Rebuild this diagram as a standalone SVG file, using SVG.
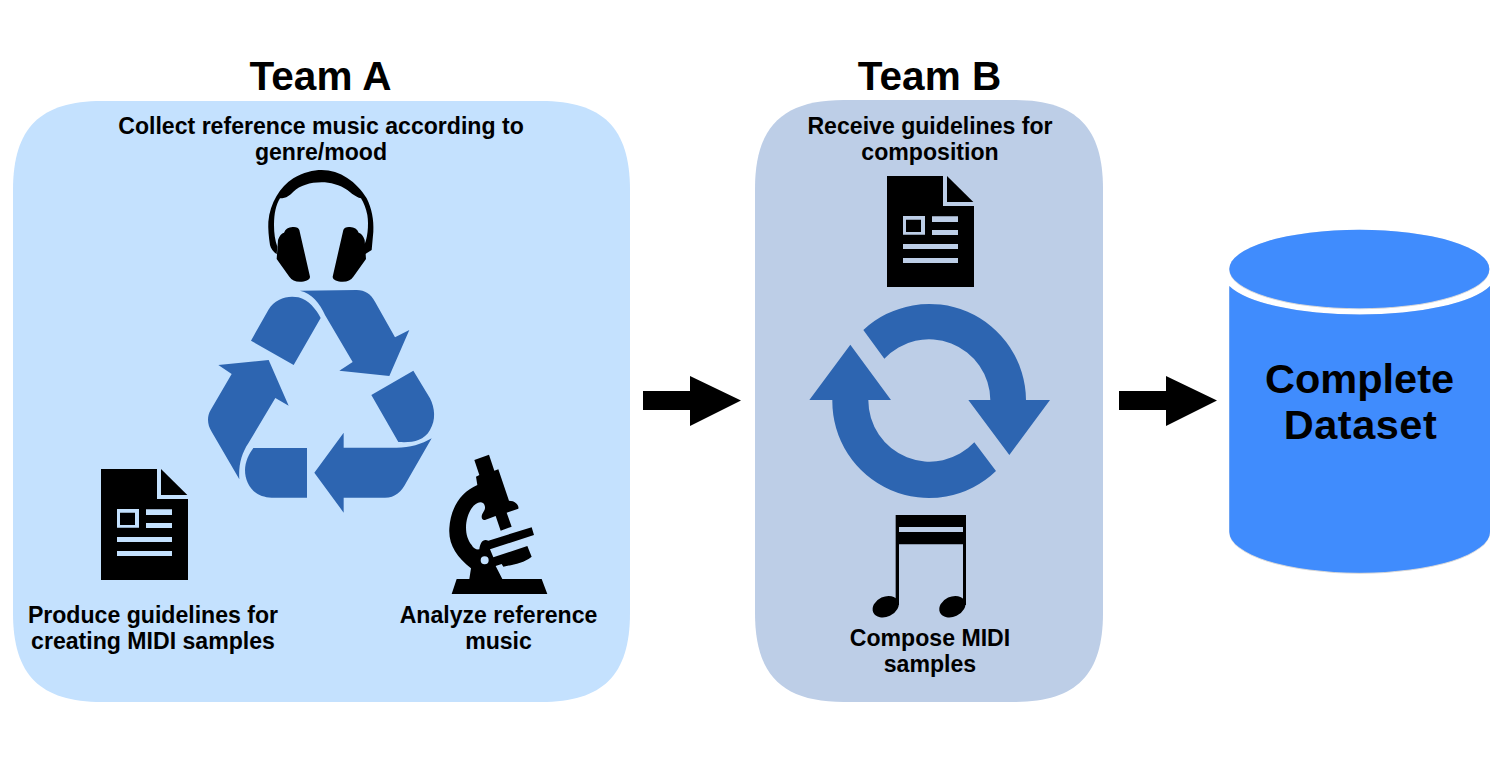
<svg xmlns="http://www.w3.org/2000/svg" xmlns:xlink="http://www.w3.org/1999/xlink" width="1500" height="776" viewBox="0 0 1500 776">
<style>
text{font-family:"Liberation Sans",Arial,sans-serif;font-weight:700;fill:#000;text-anchor:middle}
.t{font-size:40.500px}.s{font-size:23.100px}.d{font-size:41.500px}
.k{fill:#000}.b{fill:#2d65b1}
</style>
<defs>
<g id="doc">
<path class="k" fill-rule="evenodd" d="M0 0H168V90H261V333H0ZM48 120V176H114V120ZM57 131H102V168H57ZM135 121V138H213V121ZM135 162V177H213V162ZM48 204V219H213V204ZM48 246V261H213V246Z"/>
<path class="k" d="M180 0L259 78H180Z"/>
</g>
<path id="cup" class="k" d="M72 203C76 192 85 187 98 186C108 185 116 188 118 195L150 335C150 345 135 350 120 350C105 350 95 345 88 335L50 282L54 225C58 212 65 205 72 203Z"/>
<filter id="sh" x="-5%" y="-5%" width="110%" height="110%"><feDropShadow dx="0" dy="1.5" stdDeviation="1.5" flood-color="#000" flood-opacity=".35"/></filter>
</defs>
<rect width="1500" height="776" fill="#fff"/>

<g id="team-a">
<path fill="#c4e1fe" d="M13 190C13 128 40 101 102 101H541C603 101 630 128 630 190V613C630 675 603 702 541 702H102C40 702 13 675 13 613Z"/>
<text class="t" x="320.500" y="90">Team A</text>
<text class="s" x="321" y="134">Collect reference music according to</text>
<text class="s" x="321" y="160">genre/mood</text>
<text class="s" x="153" y="623">Produce guidelines for</text>
<text class="s" x="153" y="649">creating MIDI samples</text>
<text class="s" x="498.500" y="623">Analyze reference</text>
<text class="s" x="498.500" y="649">music</text>
</g>
<g id="headphones" transform="translate(260 165) scale(.33333)">
<path class="k" d="M30 240C26 215 24 190 25 170C30 115 60 65 100 40C130 22 160 15 185 15C240 15 290 50 320 100C335 130 342 165 340 200L335 255L315 268L310 245C323 225 327 180 322 150C318 130 312 115 303 100C285 95 275 85 262 75C240 60 210 52 185 52C150 52 120 62 100 80C90 90 80 100 60 100C48 120 42 145 42 180C42 205 45 225 52 245L50 268C40 260 32 250 30 240Z"/>
<use xlink:href="#cup" href="#cup"/>
<use xlink:href="#cup" href="#cup" transform="translate(368 0) scale(-1 1)"/>
</g>
<g id="recycle" class="b" transform="translate(200 160) scale(.33333)">
<path d="M300 392L470 390C495 390 512 402 525 425L585 532L628 510L568 648L418 632L458 606L375 465C360 430 335 400 300 392Z"/>
<path d="M153 542L205 450C225 415 265 405 295 412C325 418 350 450 362 474L281 615Z"/>
<path d="M118 958L35 815C22 795 20 770 32 750L95 642L55 615L206 600L266 737L226 714L145 850C125 880 115 915 118 958Z"/>
<path d="M160 864H321V1013H215C165 1013 135 975 135 930C135 905 148 880 160 864Z"/>
<path d="M343 938L431 818V863H590C630 863 665 853 695 835L620 965C605 995 585 1013 555 1013H431V1058Z"/>
<path d="M514 705L640 632L690 715C705 745 708 780 690 810C670 845 635 848 595 846Z"/>
</g>
<g id="doc-a"><use xlink:href="#doc" href="#doc" transform="translate(101 469) scale(.33333)"/></g>
<g id="microscope" transform="translate(440 450) scale(.33333)">
<path class="k" fill-rule="evenodd" d="M103 30L147 14L163 62L175 58L207 152C225 152 238 165 235 176L200 188L215 230L182 242L167 198L135 210C125 212 122 200 128 190C133 182 140 172 130 160C120 152 105 160 95 175C75 205 70 255 95 285C100 295 110 300 118 298C120 280 128 265 145 272L275 232L282 255L150 298L160 322L262 288L275 320C250 340 215 345 190 350L185 342L167 348L187 387H305L322 432H35L50 387H88L93 355C50 320 25 285 28 235C32 170 65 125 112 105L108 80L118 75ZM146 331A12 12 0 1 0 122 331A12 12 0 1 0 146 331Z"/>
</g>

<g id="team-b">
<path fill="#bdcee7" d="M755 189C755 127 782 100 844 100H1014C1076 100 1103 127 1103 189V613C1103 675 1076 702 1014 702H844C782 702 755 675 755 613Z"/>
<text class="t" x="929.500" y="90">Team B</text>
<text class="s" x="930" y="134">Receive guidelines for</text>
<text class="s" x="930" y="160">composition</text>
<text class="s" x="930" y="646">Compose MIDI</text>
<text class="s" x="930" y="672">samples</text>
</g>
<g id="doc-b"><use xlink:href="#doc" href="#doc" transform="translate(887 176) scale(.33333)"/></g>
<g id="cycle" class="b" transform="translate(800 170) scale(.33333)">
<path d="M190 480A290 290 0 0 1 678 690H750L628 855L505 690H571A184 184 0 0 0 253 566Z"/>
<path d="M588 903A290 290 0 0 1 97 690H28L151 524L273 690H205A184 184 0 0 0 523 817Z"/>
</g>
<g id="notes" transform="translate(860 505) scale(.33333)">
<path class="k" fill-rule="evenodd" d="M107 30H318V300H309V118H117V300H107ZM117 66V81H309V66Z"/>
<ellipse class="k" cx="77" cy="305" rx="41" ry="30" transform="rotate(-25 77 305)"/>
<ellipse class="k" cx="277" cy="305" rx="41" ry="30" transform="rotate(-25 277 305)"/>
</g>

<g id="dataset" transform="translate(1210 220) scale(.33333)">
<path fill="#418cfd" filter="url(#sh)" d="M58 198A407 118 0 0 0 840 198V935A391 123 0 0 1 58 935Z"/>
<ellipse fill="#418cfd" filter="url(#sh)" cx="448" cy="147" rx="390" ry="118"/>
</g>
<g id="dataset-label">
<text class="d" x="1359.500" y="393">Complete</text>
<text class="d" x="1360.500" y="439" style="letter-spacing:.5px">Dataset</text>
</g>

<g id="connectors" fill="#000">
<path d="M643 391H690V376L741 400.500L690 426V410H643Z"/>
<path d="M1119 391H1166V376L1217 400.500L1166 426V410H1119Z"/>
</g>
</svg>
